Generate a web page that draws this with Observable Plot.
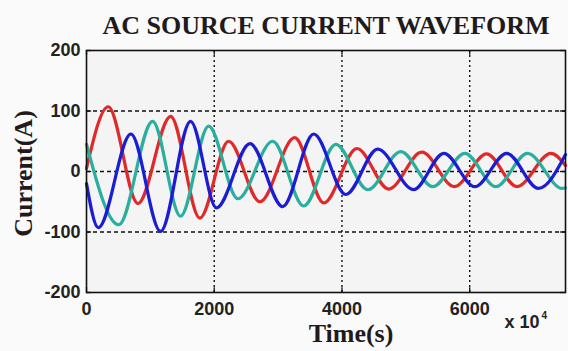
<!DOCTYPE html>
<html><head><meta charset="utf-8">
<script src="https://cdn.jsdelivr.net/npm/d3@7"></script>
<script src="https://cdn.jsdelivr.net/npm/@observablehq/plot@0.6"></script>
<style>
html,body{margin:0;padding:0;background:#fafafa;}
#chart svg{display:block;}
</style></head><body><div id="chart"></div>
<script>
const title = "AC SOURCE CURRENT WAVEFORM";
const xLabel = "Time(s)";
const yLabel = "Current(A)";
const xMultiplier = "x 10";
const xExponent = "4";
const xTicks = [0, 2000, 4000, 6000];
const yTicks = [-200, -100, 0, 100, 200];
const xGrid = [2000, 4000, 6000];
const yGrid = [-100, 0, 100];
const phaseColors = {red: "#e02a2a", teal: "#2aae9e", blue: "#1c1cd2"};
// peaks / troughs: (time, current)
const redTime = [0, 340, 805, 1317, 1775, 2225, 2715, 3260, 3715, 4235, 4733, 5250, 5760, 6265, 6740, 7273, 7500];
const redCurrent = [5, 107, -53, 91, -77, 50, -50, 56, -52, 38, -29, 32, -25, 29, -25, 30, 10];
const tealTime = [0, 505, 1035, 1473, 1912, 2370, 2915, 3401, 3903, 4404, 4922, 5423, 5925, 6410, 6905, 7450, 7500];
const tealCurrent = [45, -88, 83, -74, 75, -45, 50, -57, 45, -30, 33, -25, 30, -25, 30, -28, -27];
const blueTime = [0, 185, 695, 1160, 1630, 2035, 2560, 3072, 3558, 4060, 4560, 5120, 5596, 6080, 6580, 7077, 7500];
const blueCurrent = [-20, -93, 62, -99, 83, -60, 46, -58, 62, -38, 37, -30, 30, -25, 30, -28, 28];

const toRows = (ts, vs) => ts.map((t, i) => ({t, i: vs[i]}));
const red = toRows(redTime, redCurrent);
const teal = toRows(tealTime, tealCurrent);
const blue = toRows(blueTime, blueCurrent);

const serif = "Liberation Serif, Times New Roman, serif";
const fmt = d => String(d);

const chart = Plot.plot({
  width: 568,
  height: 351,
  marginTop: 50,
  marginBottom: 59,
  marginLeft: 86,
  marginRight: 3,
  style: {fontFamily: "Liberation Sans, Arial, sans-serif", fontSize: "18px", color: "#222", background: "transparent"},
  x: {domain: [0, 7500]},
  y: {domain: [-200, 200]},
  marks: [
    Plot.frame({fill: "#f4f4f4", stroke: null}),
    Plot.ruleX(xGrid, {stroke: "#111", strokeWidth: 1.4, strokeDasharray: "2,3"}),
    Plot.ruleY(yGrid, {stroke: "#111", strokeWidth: 1.4, strokeDasharray: "4,3"}),
    Plot.line(red, {x: "t", y: "i", stroke: phaseColors.red, strokeWidth: 3.2, curve: "monotone-x"}),
    Plot.line(teal, {x: "t", y: "i", stroke: phaseColors.teal, strokeWidth: 3.2, curve: "monotone-x"}),
    Plot.line(blue, {x: "t", y: "i", stroke: phaseColors.blue, strokeWidth: 3.2, curve: "monotone-x"}),
    Plot.ruleX(xTicks, {y1: -200, y2: -192, stroke: "#111", strokeWidth: 1.3}),
    Plot.ruleX(xTicks, {y1: 200, y2: 192, stroke: "#111", strokeWidth: 1.3}),
    Plot.ruleY(yTicks, {x1: 0, x2: 80, stroke: "#111", strokeWidth: 1.3}),
    Plot.ruleY(yTicks, {x1: 7500, x2: 7420, stroke: "#111", strokeWidth: 1.3}),
    Plot.frame({stroke: "#111", strokeWidth: 1.6}),
    Plot.axisX(xTicks, {tickSize: 0, tickPadding: 10, label: null, tickFormat: fmt, fontWeight: "bold", fill: "#222"}),
    Plot.axisY(yTicks, {tickSize: 0, tickPadding: 6, label: null, tickFormat: fmt, fontWeight: "bold", fill: "#222"}),
    Plot.text([title], {frameAnchor: "top", lineAnchor: "bottom", dy: -17, fontFamily: serif, fontWeight: "bold", fontSize: 26, fill: "#221a1a"}),
    Plot.text([xLabel], {frameAnchor: "bottom", lineAnchor: "bottom", dx: 25, dy: 49, fontFamily: serif, fontWeight: "bold", fontSize: 26, fill: "#221a1a"}),
    Plot.text([yLabel], {frameAnchor: "left", textAnchor: "middle", lineAnchor: "middle", rotate: -90, dx: -63, dy: 2, fontFamily: serif, fontWeight: "bold", fontSize: 26, fill: "#221a1a"}),
    Plot.text([xMultiplier], {frameAnchor: "bottom-right", textAnchor: "start", lineAnchor: "bottom", dx: -61, dy: 35, fontSize: 18, fontWeight: "bold", fill: "#222"}),
    Plot.text([xExponent], {frameAnchor: "bottom-right", textAnchor: "start", lineAnchor: "bottom", dx: -24, dy: 26, fontSize: 10, fontWeight: "bold", fill: "#222"})
  ]
});
document.getElementById("chart").appendChild(chart);
</script></body></html>
